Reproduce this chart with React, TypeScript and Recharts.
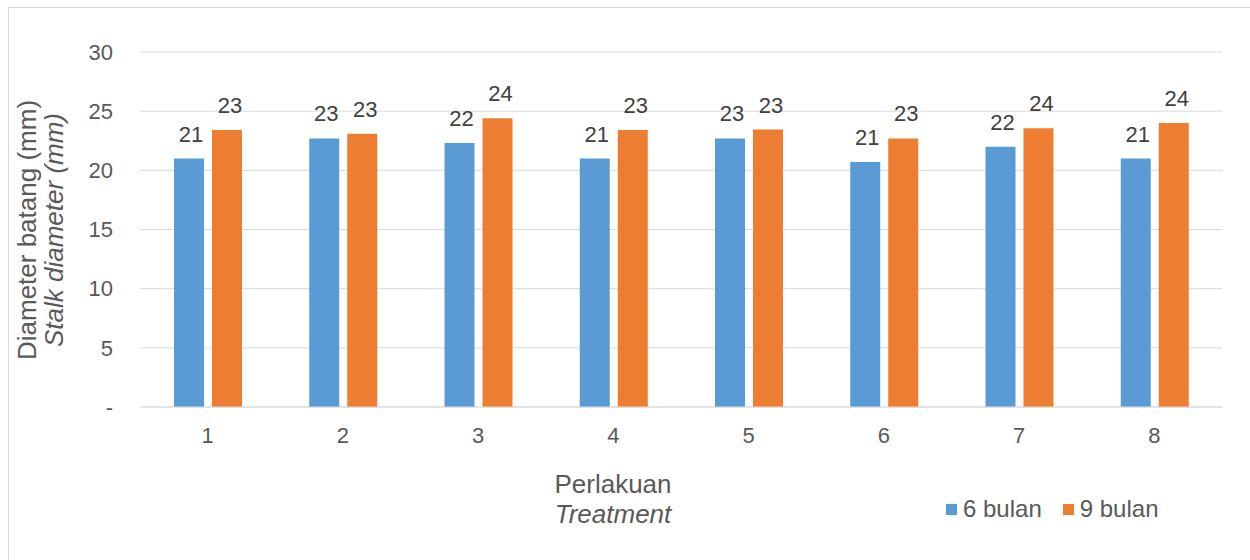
import React from 'react';
import { BarChart, Bar, XAxis, YAxis, CartesianGrid, Legend, LabelList } from 'recharts';

const categories = ['1', '2', '3', '4', '5', '6', '7', '8'];
const bulan6 = [21.0, 22.7, 22.3, 21.0, 22.7, 20.7, 22.0, 21.0];
const bulan9 = [23.4, 23.1, 24.4, 23.4, 23.45, 22.7, 23.55, 24.0];
const yTicks = [0, 5, 10, 15, 20, 25, 30];

const data = categories.map((name, i) => ({ name, b6: bulan6[i], b9: bulan9[i] }));

const FONT = '"Liberation Sans", Arial, sans-serif';
const GREY = '#595959';

const renderLegend = (props: any) => {
  const { payload } = props;
  return (
    <div style={{ display: 'flex', alignItems: 'center', fontFamily: FONT }}>
      {payload.map((entry: any, i: number) => (
        <div key={i} style={{ display: 'flex', alignItems: 'center', marginRight: 21 }}>
          <span style={{ width: 11, height: 11, background: entry.color, marginRight: 6, display: 'inline-block' }} />
          <span style={{ fontSize: 24, color: GREY }}>{entry.value}</span>
        </div>
      ))}
    </div>
  );
};

const XTitle = () => (
  <text fill={GREY} fontFamily={FONT} fontSize={26} textAnchor="middle">
    <tspan x={613} y={493}>Perlakuan</tspan>
    <tspan x={613} y={523} fontStyle="italic">Treatment</tspan>
  </text>
);

const YTitle = () => (
  <g fill={GREY} fontFamily={FONT} fontSize={26} textAnchor="middle">
    <text x={36} y={230} transform="rotate(-90 36 230)">Diameter batang (mm)</text>
    <text x={63} y={230} transform="rotate(-90 63 230)" fontStyle="italic">Stalk diameter (mm)</text>
  </g>
);

export default function App() {
  return (
    <div style={{ position: 'relative', width: 1250, height: 560, overflow: 'hidden' }}>
      <style>{'body{margin:0;overflow:hidden}'}</style>
      <div
        style={{
          position: 'absolute',
          left: 8,
          top: 7,
          width: 1260,
          height: 570,
          border: '1px solid #d9d9d9',
          boxSizing: 'border-box',
        }}
      />
      <div style={{ position: 'absolute', left: 0, top: 0 }}>
        <BarChart
          width={1250}
          height={560}
          data={data}
          margin={{ top: 52, right: 28, left: 0, bottom: 0 }}
          barGap={8}
        >
          <CartesianGrid vertical={false} stroke="#d9d9d9" />
          <XAxis
            dataKey="name"
            height={153}
            axisLine={{ stroke: '#d9d9d9' }}
            tickLine={false}
            tickMargin={14}
            tick={{ fill: GREY, fontSize: 22, fontFamily: FONT }}
            label={{ content: () => <XTitle /> }}
          />
          <YAxis
            width={140}
            domain={[0, 30]}
            ticks={yTicks}
            axisLine={false}
            tickLine={false}
            tickMargin={21}
            tickFormatter={(v: number) => (v === 0 ? '-' : String(v))}
            tick={{ fill: GREY, fontSize: 22, fontFamily: FONT }}
            label={{ content: () => <YTitle /> }}
          />
          <Legend
            verticalAlign="middle"
            align="center"
            wrapperStyle={{ left: 946, top: 495, width: 290, height: 28 }}
            content={renderLegend}
          />
          <Bar dataKey="b6" name="6 bulan" fill="#5b9bd5" barSize={30} isAnimationActive={false}>
            <LabelList
              dataKey="b6"
              position="top"
              offset={17}
              dx={2}
              fill="#404040"
              fontSize={22}
              fontFamily={FONT}
              formatter={(v: any) => Math.round(Number(v))}
            />
          </Bar>
          <Bar dataKey="b9" name="9 bulan" fill="#ed7d31" barSize={30} isAnimationActive={false}>
            <LabelList
              dataKey="b9"
              position="top"
              offset={17}
              dx={3}
              fill="#404040"
              fontSize={22}
              fontFamily={FONT}
              formatter={(v: any) => Math.round(Number(v))}
            />
          </Bar>
        </BarChart>
      </div>
    </div>
  );
}
